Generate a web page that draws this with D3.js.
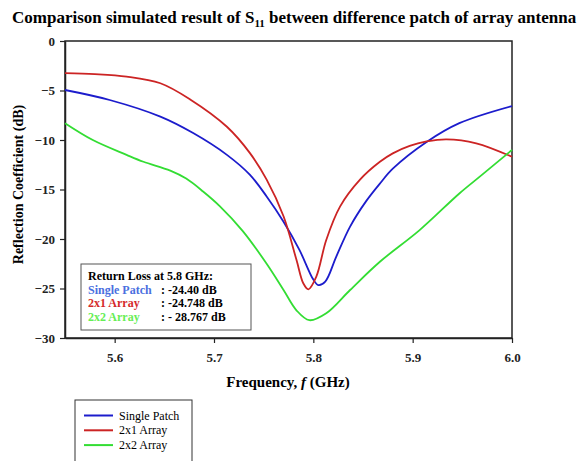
<!DOCTYPE html>
<html>
<head>
<meta charset="utf-8">
<script src="https://cdn.jsdelivr.net/npm/d3@7"></script>
<style>
  body { margin: 0; background: #fff; }
  text { font-family: "Liberation Serif", "Times New Roman", serif; }
</style>
</head>
<body>
<svg width="584" height="461"></svg>
<script>
var seriesNames = ['Single Patch', '2x1 Array', '2x2 Array'];
var seriesColors = ['#1c1ccc', '#cc2424', '#33dd33'];

var singleFreq = [5.55, 5.595, 5.646, 5.679, 5.713, 5.736, 5.753, 5.77, 5.786, 5.80, 5.805, 5.812, 5.823, 5.837, 5.853, 5.867, 5.88, 5.914, 5.947, 6.0];
var singleDb   = [-4.95, -5.96, -7.64, -9.3, -11.5, -13.5, -15.7, -18.25, -21.1, -24.1, -24.65, -24.3, -21.8, -18.75, -16.2, -14.4, -12.9, -10.2, -8.3, -6.57];

var x21Freq = [5.55, 5.58, 5.612, 5.646, 5.676, 5.713, 5.736, 5.753, 5.77, 5.783, 5.79, 5.795, 5.803, 5.813, 5.827, 5.847, 5.867, 5.88, 5.897, 5.914, 5.934, 5.964, 6.0];
var x21Db   = [-3.25, -3.35, -3.6, -4.27, -5.9, -8.66, -11.3, -14.0, -17.7, -22.1, -24.5, -25.08, -23.8, -20.1, -16.7, -14.0, -12.2, -11.35, -10.6, -10.15, -9.93, -10.33, -11.69];

var x22Freq = [5.55, 5.578, 5.612, 5.629, 5.656, 5.672, 5.689, 5.706, 5.729, 5.753, 5.77, 5.783, 5.796, 5.813, 5.837, 5.867, 5.907, 5.947, 5.97, 6.0];
var x22Db   = [-8.3, -10.0, -11.5, -12.2, -13.1, -13.9, -15.2, -16.7, -19.2, -22.5, -25.15, -27.2, -28.2, -27.5, -25.15, -22.3, -19.1, -15.4, -13.5, -11.0];

var xTicks = [5.6, 5.7, 5.8, 5.9, 6.0];
var yTicks = [0, -5, -10, -15, -20, -25, -30];

var noteLabels = ['Single Patch', '2x1 Array', '2x2 Array'];
var noteValues = [': -24.40 dB', ': -24.748 dB', ': - 28.767 dB'];
var noteColors = ['#4a6fe0', '#d42a2a', '#66ee55'];

var svg = d3.select('svg');
var pLeft = 65, pTop = 41, pRight = 512, pBottom = 338;

var x = d3.scaleLinear().domain([5.55, 6.0]).range([pLeft, pRight]);
var y = d3.scaleLinear().domain([-30, 0]).range([pBottom, pTop]);

// title with S11 subscript
var title = svg.append('text')
  .attr('x', 12).attr('y', 23)
  .style('font-size', '17px').style('font-weight', 'bold');
title.append('tspan').text('Comparison simulated result of S');
title.append('tspan').text('11').attr('dy', 4).style('font-size', '11px');
title.append('tspan').text(' between difference patch of array antenna').attr('dy', -4);

// frame
svg.append('rect')
  .attr('x', pLeft).attr('y', pTop)
  .attr('width', pRight - pLeft).attr('height', pBottom - pTop)
  .attr('fill', 'none').attr('stroke', '#222').attr('stroke-width', 1.5);

var xAxis = svg.append('g')
  .attr('transform', 'translate(0,' + pBottom + ')')
  .call(d3.axisBottom(x).tickValues(xTicks).tickFormat(d3.format('.1f')).tickSize(5).tickSizeOuter(0));
var yAxis = svg.append('g')
  .attr('transform', 'translate(' + pLeft + ',0)')
  .call(d3.axisLeft(y).tickValues(yTicks).tickFormat(d3.format('d')).tickSize(5).tickSizeOuter(0));

[xAxis, yAxis].forEach(function(a) {
  a.select('.domain').attr('stroke', '#222').attr('stroke-width', 1.5);
  a.selectAll('.tick line').attr('stroke', '#222').attr('stroke-width', 1.2);
  a.selectAll('text')
    .style('font-family', '"Liberation Serif", serif')
    .style('font-size', '13px').style('font-weight', 'bold').attr('fill', '#222');
});
xAxis.selectAll('text').attr('dy', '1.25em');
yAxis.selectAll('text').attr('x', -10);

// axis titles
var xt = svg.append('text')
  .attr('x', 288).attr('y', 387)
  .attr('text-anchor', 'middle')
  .style('font-size', '15px').style('font-weight', 'bold');
xt.append('tspan').text('Frequency, ');
xt.append('tspan').text('f').style('font-style', 'italic');
xt.append('tspan').text(' (GHz)');

svg.append('text')
  .attr('transform', 'translate(23,' + ((pTop + pBottom) / 2 - 5) + ') rotate(-90)')
  .attr('text-anchor', 'middle')
  .style('font-size', '14px').style('font-weight', 'bold')
  .text('Reflection Coefficient (dB)');

// curves
var series = [
  { freq: singleFreq, db: singleDb },
  { freq: x21Freq, db: x21Db },
  { freq: x22Freq, db: x22Db }
];
var line = d3.line()
  .x(function(d) { return x(d[0]); })
  .y(function(d) { return y(d[1]); })
  .curve(d3.curveCatmullRom.alpha(0.5));

var plot = svg.append('g');
series.forEach(function(s, i) {
  var pts = s.freq.map(function(f, j) { return [f, s.db[j]]; });
  plot.append('path')
    .datum(pts)
    .attr('d', line)
    .attr('fill', 'none')
    .attr('stroke', seriesColors[i])
    .attr('stroke-width', 1.8);
});

// return-loss note box
var note = svg.append('g');
note.append('rect')
  .attr('x', 81).attr('y', 264).attr('width', 170).attr('height', 66)
  .attr('fill', '#fff').attr('stroke', '#555').attr('stroke-width', 1);
note.append('text')
  .attr('x', 88).attr('y', 280)
  .style('font-size', '12px').style('font-weight', 'bold')
  .text('Return Loss at 5.8 GHz:');
noteLabels.forEach(function(lab, i) {
  note.append('text')
    .attr('x', 88).attr('y', 293.5 + i * 13.5)
    .style('font-size', '12px').style('font-weight', 'bold')
    .attr('fill', noteColors[i])
    .text(lab);
  note.append('text')
    .attr('x', 161).attr('y', 293.5 + i * 13.5)
    .style('font-size', '12px').style('font-weight', 'bold')
    .text(noteValues[i]);
});

// legend
var legend = svg.append('g');
legend.append('rect')
  .attr('x', 75).attr('y', 400).attr('width', 117).attr('height', 70)
  .attr('fill', '#fff').attr('stroke', '#333').attr('stroke-width', 1);
seriesNames.forEach(function(name, i) {
  var ly = 415.5 + i * 14.8;
  legend.append('line')
    .attr('x1', 84).attr('x2', 113).attr('y1', ly).attr('y2', ly)
    .attr('stroke', seriesColors[i]).attr('stroke-width', 2);
  legend.append('text')
    .attr('x', 119).attr('y', ly + 4)
    .style('font-size', '12px')
    .text(name);
});
</script>
</body>
</html>
